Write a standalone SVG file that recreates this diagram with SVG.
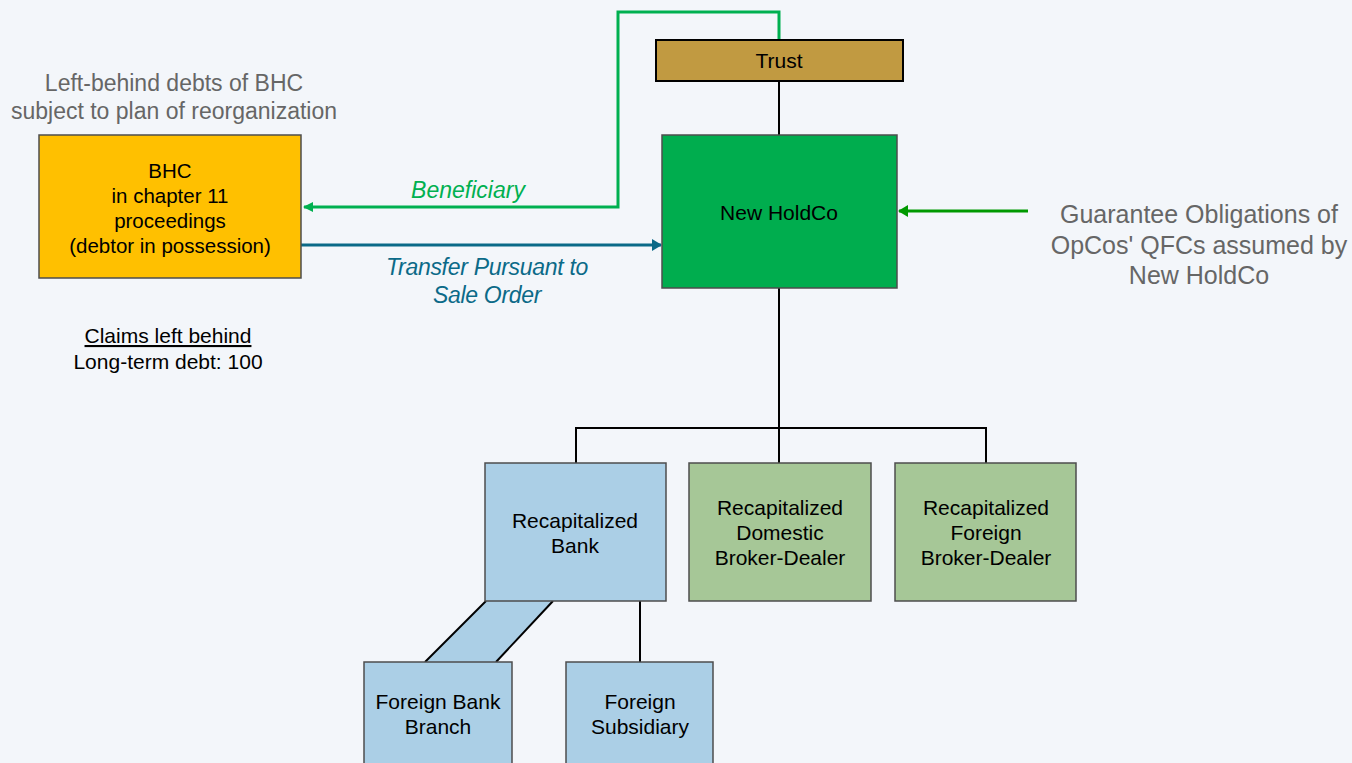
<svg xmlns="http://www.w3.org/2000/svg" width="1352" height="763" viewBox="0 0 1352 763">
<style>
.t{font-family:"Liberation Sans",Arial,sans-serif;font-size:21px;fill:#000;text-anchor:middle}
.g{font-family:"Liberation Sans",Arial,sans-serif;font-size:23px;fill:#666;text-anchor:middle}
.box{stroke:#4d4d4d;stroke-width:1.5}
.ln{stroke:#000;stroke-width:2;fill:none}
</style>
<defs>
<marker id="ag" markerWidth="10" markerHeight="10" refX="9" refY="5" orient="auto" markerUnits="userSpaceOnUse"><path d="M0,0 L10,5 L0,10 z" fill="#00B050"/></marker>
<marker id="ab" markerWidth="10" markerHeight="12" refX="9" refY="6" orient="auto" markerUnits="userSpaceOnUse"><path d="M0,0 L10,6 L0,12 z" fill="#0B6A88"/></marker>
<marker id="ad" markerWidth="10" markerHeight="12" refX="9" refY="6" orient="auto" markerUnits="userSpaceOnUse"><path d="M0,0 L10,6 L0,12 z" fill="#009900"/></marker>
</defs>
<rect width="1352" height="763" fill="#F3F6FA"/>
<g id="connectors">
<line class="ln" x1="779" y1="81" x2="779" y2="135"/>
<line class="ln" x1="779" y1="288" x2="779" y2="463"/>
<polyline class="ln" points="576,463 576,428 986,428 986,463"/>
<line class="ln" x1="640" y1="601" x2="640" y2="662"/>
<polygon points="486,601 553,601 496,662 425,662" fill="#ABCFE6"/>
<line class="ln" x1="486" y1="601" x2="425" y2="662"/>
<line class="ln" x1="553" y1="601" x2="496" y2="662"/>
<polyline points="779,39 779,12 618,12 618,207 304,207" fill="none" stroke="#00B050" stroke-width="3" marker-end="url(#ag)"/>
<line x1="301" y1="245" x2="661" y2="245" stroke="#0B6A88" stroke-width="3" marker-end="url(#ab)"/>
<line x1="1028" y1="211" x2="899" y2="211" stroke="#009900" stroke-width="3" marker-end="url(#ad)"/>
<text x="468" y="198" font-family="Liberation Sans, Arial, sans-serif" font-size="23" font-style="italic" fill="#00B050" text-anchor="middle">Beneficiary</text>
<text font-family="Liberation Sans, Arial, sans-serif" font-size="23" font-style="italic" fill="#0B6A88" text-anchor="middle" letter-spacing="-0.3"><tspan x="487" y="275">Transfer Pursuant to</tspan><tspan x="487" y="303">Sale Order</tspan></text>
</g>
<g id="trust">
<rect x="656" y="40" width="247" height="41" fill="#C19A41" stroke="#000" stroke-width="2"/>
<text class="t" x="779" y="68">Trust</text>
</g>
<g id="newholdco">
<rect class="box" x="662" y="135" width="235" height="153" fill="#00AD4E"/>
<text class="t" x="779" y="220">New HoldCo</text>
</g>
<g id="bhc">
<rect class="box" x="39" y="135" width="262" height="143" fill="#FFC000"/>
<text class="t" style="font-size:20.5px"><tspan x="170" y="178">BHC</tspan><tspan x="170" y="203">in chapter 11</tspan><tspan x="170" y="228">proceedings</tspan><tspan x="170" y="253">(debtor in possession)</tspan></text>
</g>
<g id="left-behind">
<text class="g"><tspan x="174" y="91">Left-behind debts of BHC</tspan><tspan x="174" y="119">subject to plan of reorganization</tspan></text>
</g>
<g id="claims">
<text class="t"><tspan x="168" y="343" text-decoration="underline">Claims left behind</tspan><tspan x="168" y="369">Long-term debt: 100</tspan></text>
</g>
<g id="guarantee">
<text class="g" style="font-size:25px"><tspan x="1199" y="223">Guarantee Obligations of</tspan><tspan x="1199" y="254">OpCos' QFCs assumed by</tspan><tspan x="1199" y="284">New HoldCo</tspan></text>
</g>
<g id="bank">
<rect class="box" x="485" y="463" width="181" height="138" fill="#ABCFE6"/>
<text class="t"><tspan x="575" y="528">Recapitalized</tspan><tspan x="575" y="553">Bank</tspan></text>
</g>
<g id="domestic-bd">
<rect class="box" x="689" y="463" width="182" height="138" fill="#A6C797"/>
<text class="t"><tspan x="780" y="515">Recapitalized</tspan><tspan x="780" y="540">Domestic</tspan><tspan x="780" y="565">Broker-Dealer</tspan></text>
</g>
<g id="foreign-bd">
<rect class="box" x="895" y="463" width="181" height="138" fill="#A6C797"/>
<text class="t"><tspan x="986" y="515">Recapitalized</tspan><tspan x="986" y="540">Foreign</tspan><tspan x="986" y="565">Broker-Dealer</tspan></text>
</g>
<g id="branch">
<rect class="box" x="364" y="662" width="148" height="110" fill="#ABCFE6"/>
<text class="t"><tspan x="438" y="709">Foreign Bank</tspan><tspan x="438" y="734">Branch</tspan></text>
</g>
<g id="subsidiary">
<rect class="box" x="566" y="662" width="147" height="110" fill="#ABCFE6"/>
<text class="t"><tspan x="640" y="709">Foreign</tspan><tspan x="640" y="734">Subsidiary</tspan></text>
</g>
</svg>
